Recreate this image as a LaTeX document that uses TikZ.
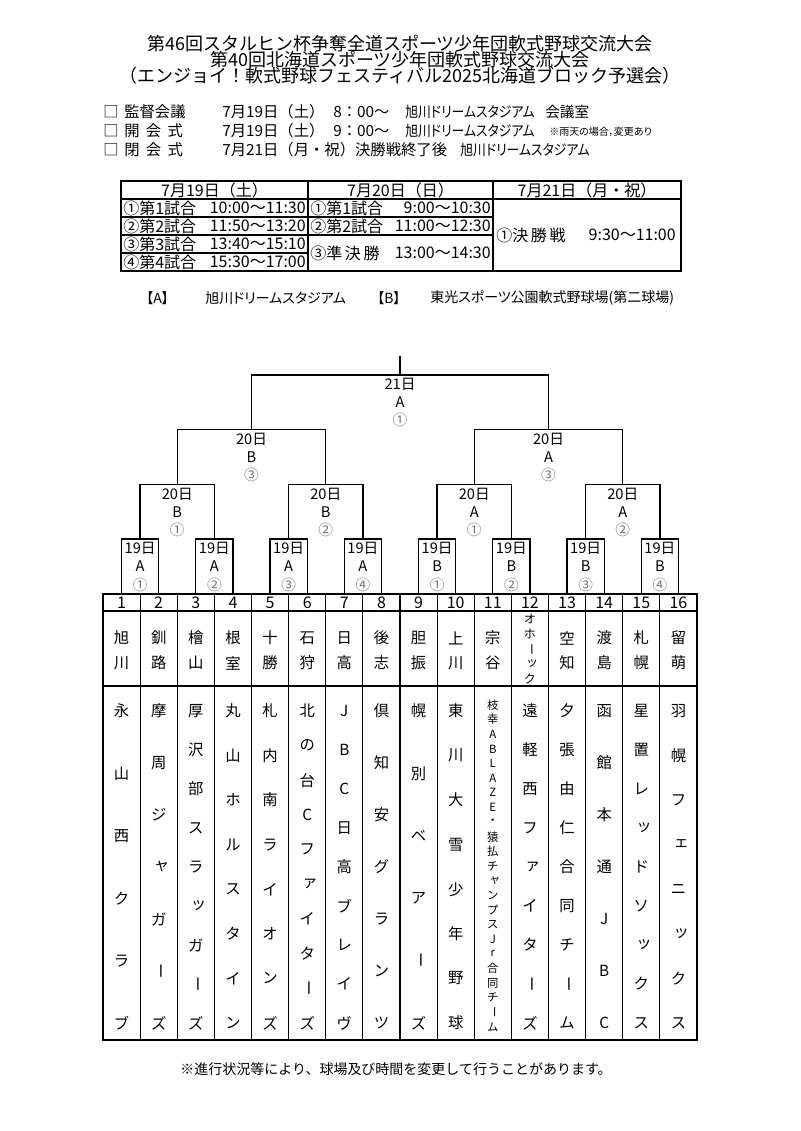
\documentclass[tikz,border=0pt]{standalone}
\usepackage{fontspec}
\usepackage{graphicx}
\setmainfont{Noto Sans CJK JP}
\newfontfamily\pj[RawFeature=+palt]{Noto Sans CJK JP}
\newcommand\vb{\rotatebox[origin=c]{-90}{ー}}
\newcommand\skn[1]{\makebox[1em][l]{\hspace{0.18em}\raisebox{0.15em}{#1}}}
\newcommand\venuetxt{\resizebox{97pt}{\height}{旭川ドリームスタジアム}}
% #1 column, #2 count, #3 first y, #4 span, #5 style, #6 list
\newcommand\teamcol[6]{%
  \foreach \tc [count=\k] in {#6} {%
    \pgfmathsetmacro\cx{103+37.125*(#1-0.5)}%
    \pgfmathsetmacro\cy{#3+#4*(\k-1)/(#2-1)}%
    \node[#5] (tm#1-\k) at (\cx,\cy) {\tc};
  }%
}
\begin{document}
\begin{tikzpicture}[x=0.75pt,y=-0.75pt,
  every node/.style={inner sep=0pt},
  ttl/.style={font=\fontsize{13.5}{15}\selectfont},
  inf/.style={font=\fontsize{11.5}{13}\selectfont, anchor=west},
  infp/.style={font=\pj\fontsize{11}{13}\selectfont, anchor=west},
  note/.style={font=\pj\fontsize{7.5}{9}\selectfont, anchor=west},
  sch/.style={font=\fontsize{12}{14}\selectfont},
  ven/.style={font=\pj\fontsize{10.5}{12}\selectfont, anchor=west},
  bl/.style={line width=1pt},
  tl/.style={line width=0.8pt},
  ol/.style={line width=1.4pt},
  bt/.style={font=\fontsize{11}{12}\selectfont},
  bc/.style={font=\fontsize{11}{12}\selectfont, text=black!55},
  num/.style={font=\fontsize{12}{13}\selectfont},
  reg/.style={font=\fontsize{11.5}{13}\selectfont},
  regs/.style={font=\fontsize{9}{10}\selectfont},
  tm/.style={font=\fontsize{11.5}{13}\selectfont},
  tms/.style={font=\fontsize{8.5}{10}\selectfont},
  foot/.style={font=\fontsize{10.5}{12}\selectfont}]
\fill[white] (0,0) rectangle (800,1131);
\useasboundingbox (0,0) rectangle (800,1131);

% ---- title
\node[ttl] (t1) at (400,44) {第46回スタルヒン杯争奪全道スポーツ少年団軟式野球交流大会};
\node[ttl] (t2) at (400,60) {第40回北海道スポーツ少年団軟式野球交流大会};
\node[ttl] (t3) at (400,76) {（エンジョイ！軟式野球フェスティバル2025北海道ブロック予選会）};

% ---- info lines
\node[inf] (i1a) at (103,112) {□};
\node[inf] (i1b) at (124,112) {\makebox[44pt][s]{監\hfil 督\hfil 会\hfil 議}};
\node[inf] (i1c) at (222,112) {7月19日（土）};
\node[inf] (i1d) at (333,112) {8：00～};
\node[infp] (i1e) at (405,112) {\venuetxt};
\node[infp] (i1f) at (545,112) {会議室};

\node[inf] (i2a) at (103,131) {□};
\node[inf] (i2b) at (124,131) {\makebox[44pt][s]{開\hfil 会\hfil 式}};
\node[inf] (i2c) at (222,131) {7月19日（土）};
\node[inf] (i2d) at (333,131) {9：00～};
\node[infp] (i2e) at (405,131) {\venuetxt};
\node[note] (i2f) at (549,132) {※雨天の場合，変更あり};

\node[inf] (i3a) at (103,150) {□};
\node[inf] (i3b) at (124,150) {\makebox[44pt][s]{閉\hfil 会\hfil 式}};
\node[inf] (i3c) at (222,150) {7月21日（月・祝）決勝戦終了後};
\node[infp] (i3e) at (460,150) {\venuetxt};

% ---- schedule table
\draw[ol] (121,181) rectangle (681,271);
\draw[tl] (121,199) -- (681,199);
\draw[tl] (308,181) -- (308,271);
\draw[tl] (493,181) -- (493,271);
\draw[tl] (121,217) -- (493,217);
\draw[tl] (121,235) -- (493,235);
\draw[tl] (121,253) -- (308,253);
\node[sch] (h1) at (214.5,190) {7月19日（土）};
\node[sch] (h2) at (400.5,190) {7月20日（日）};
\node[sch] (h3) at (587,190) {7月21日（月・祝）};
\node[sch,anchor=west] (s11) at (123,208) {①第1試合};
\node[sch,anchor=east] (s12) at (306,208) {10:00～11:30};
\node[sch,anchor=west] (s21) at (123,226) {②第2試合};
\node[sch,anchor=east] (s22) at (306,226) {11:50～13:20};
\node[sch,anchor=west] (s31) at (123,244) {③第3試合};
\node[sch,anchor=east] (s32) at (306,244) {13:40～15:10};
\node[sch,anchor=west] (s41) at (123,262) {④第4試合};
\node[sch,anchor=east] (s42) at (306,262) {15:30～17:00};
\node[sch,anchor=west] (u11) at (310,208) {①第1試合};
\node[sch,anchor=east] (u12) at (491,208) {9:00～10:30};
\node[sch,anchor=west] (u21) at (310,226) {②第2試合};
\node[sch,anchor=east] (u22) at (491,226) {11:00～12:30};
\node[sch,anchor=west] (u31) at (310,253) {③準\,決\,勝};
\node[sch,anchor=east] (u32) at (491,253) {13:00～14:30};
\node[sch,anchor=west] (v11) at (496,235) {①決\,勝\,戦};
\node[sch,anchor=east] (v12) at (676,235) {9:30～11:00};

% ---- venues
\node[ven] (va) at (146,298) {【A】};
\node[ven] (vat) at (205,298) {旭川ドリームスタジアム};
\node[ven] (vb) at (377,298) {【B】};
\node[ven] (vbt) at (430,298) {東光スポーツ公園軟式野球場(第二球場)};

% ---- team table
\draw[ol] (103,594) rectangle (697,1040);
\draw[tl] (103,611) -- (697,611);
\draw[tl] (103,686) -- (697,686);
\foreach \i in {1,...,15} {
  \pgfmathsetmacro\vx{103+37.125*\i}
  \draw[tl] (\vx,594) -- (\vx,1040);
}
\foreach \i in {1,...,16} {
  \pgfmathsetmacro\cx{103+37.125*(\i-0.5)}
  \coordinate (c\i) at (\cx,594);
  \node[num] (n\i) at (\cx,603) {\i};
}
\foreach \i/\a/\b in {1/旭/川,2/釧/路,3/檜/山,4/根/室,5/十/勝,6/石/狩,7/日/高,8/後/志,9/胆/振,10/上/川,11/宗/谷,13/空/知,14/渡/島,15/札/幌,16/留/萌} {
  \pgfmathsetmacro\cx{103+37.125*(\i-0.5)}
  \node[reg] (ra\i) at (\cx,638) {\a};
  \node[reg] (rb\i) at (\cx,663) {\b};
}
\foreach \tc [count=\k] in {オ,ホ,\vb,\skn{ッ},ク} {
  \pgfmathsetmacro\cy{619+15*(\k-1)}
  \node[regs] (r12-\k) at (529.94,\cy) {\tc};
}

\teamcol{1}{6}{711}{312}{tm}{永,山,西,ク,ラ,ブ}
\teamcol{2}{7}{711}{312}{tm}{摩,周,ジ,\skn{ャ},ガ,\vb,ズ}
\teamcol{3}{9}{711}{312}{tm}{厚,沢,部,ス,ラ,\skn{ッ},ガ,\vb,ズ}
\teamcol{4}{8}{711}{312}{tm}{丸,山,ホ,ル,ス,タ,イ,ン}
\teamcol{5}{8}{711}{312}{tm}{札,内,南,ラ,イ,オ,ン,ズ}
\teamcol{6}{10}{711}{312}{tm}{北,の,台,C,フ,\skn{ァ},イ,タ,\vb,ズ}
\teamcol{7}{9}{711}{312}{tm}{J,B,C,日,高,ブ,レ,イ,ヴ}
\teamcol{8}{7}{711}{312}{tm}{倶,知,安,グ,ラ,ン,ツ}
\teamcol{9}{6}{711}{312}{tm}{幌,別,ベ,ア,\vb,ズ}
\teamcol{10}{8}{711}{312}{tm}{東,川,大,雪,少,年,野,球}
\teamcol{11}{23}{705}{322}{tms}{枝,幸,A,B,L,A,Z,E,・,猿,払,チ,\skn{ャ},ン,プ,ス,J,r,合,同,チ,\vb,ム}
\teamcol{12}{9}{711}{312}{tm}{遠,軽,西,フ,\skn{ァ},イ,タ,\vb,ズ}
\teamcol{13}{9}{711}{312}{tm}{夕,張,由,仁,合,同,チ,\vb,ム}
\teamcol{14}{7}{711}{312}{tm}{函,館,本,通,J,B,C}
\teamcol{15}{9}{711}{312}{tm}{星,置,レ,\skn{ッ},ド,ソ,\skn{ッ},ク,ス}
\teamcol{16}{8}{711}{312}{tm}{羽,幌,フ,\skn{ェ},ニ,\skn{ッ},ク,ス}

% ---- bracket
\foreach \k in {1,...,8} {
  \pgfmathsetmacro\mx{103+37.125*(2*\k-1)}
  \coordinate (m\k) at (\mx,539);
}
\foreach \k in {1,...,4} {
  \pgfmathsetmacro\nx{103+37.125*(4*\k-2)}
  \coordinate (q\k) at (\nx,484.5);
}
\coordinate (p1) at (251.5,429.5);
\coordinate (p2) at (548.5,429.5);
\coordinate (f) at (400,375);
\coordinate (top) at (400,356);

\draw[bl] (c1) |- (m1) -| (c2);
\draw[bl] (c3) |- (m2) -| (c4);
\draw[bl] (c5) |- (m3) -| (c6);
\draw[bl] (c7) |- (m4) -| (c8);
\draw[bl] (c9) |- (m5) -| (c10);
\draw[bl] (c11) |- (m6) -| (c12);
\draw[bl] (c13) |- (m7) -| (c14);
\draw[bl] (c15) |- (m8) -| (c16);
\draw[bl] (m1) |- (q1) -| (m2);
\draw[bl] (m3) |- (q2) -| (m4);
\draw[bl] (m5) |- (q3) -| (m6);
\draw[bl] (m7) |- (q4) -| (m8);
\draw[bl] (q1) |- (p1) -| (q2);
\draw[bl] (q3) |- (p2) -| (q4);
\draw[bl] (p1) |- (f) -| (p2);
\draw[bl] (f) -- (top);

% labels
\foreach \k/\L/\N in {1/A/①,2/A/②,3/A/③,4/A/④,5/B/①,6/B/②,7/B/③,8/B/④} {
  \pgfmathsetmacro\mx{103+37.125*(2*\k-1)}
  \node[bt] (la\k) at (\mx,548.5) {19日};
  \node[bt] (lb\k) at (\mx,566.5) {\L};
  \node[bc] (lc\k) at (\mx,584.5) {\N};
}
\foreach \k/\L/\N in {1/B/①,2/B/②,3/A/①,4/A/②} {
  \pgfmathsetmacro\nx{103+37.125*(4*\k-2)}
  \node[bt] (ka\k) at (\nx,494) {20日};
  \node[bt] (kb\k) at (\nx,512) {\L};
  \node[bc] (kc\k) at (\nx,530) {\N};
}
\node[bt] (ja1) at (251.5,439) {20日};
\node[bt] (jb1) at (251.5,457) {B};
\node[bc] (jc1) at (251.5,475) {③};
\node[bt] (ja2) at (548.5,439) {20日};
\node[bt] (jb2) at (548.5,457) {A};
\node[bc] (jc2) at (548.5,475) {③};
\node[bt] (fa) at (400,384) {21日};
\node[bt] (fb) at (400,402) {A};
\node[bc] (fc) at (400,420) {①};

% ---- footer
\node[foot] (ft) at (396,1069) {※進行状況等により、球場及び時間を変更して行うことがあります。};
\end{tikzpicture}
\end{document}
